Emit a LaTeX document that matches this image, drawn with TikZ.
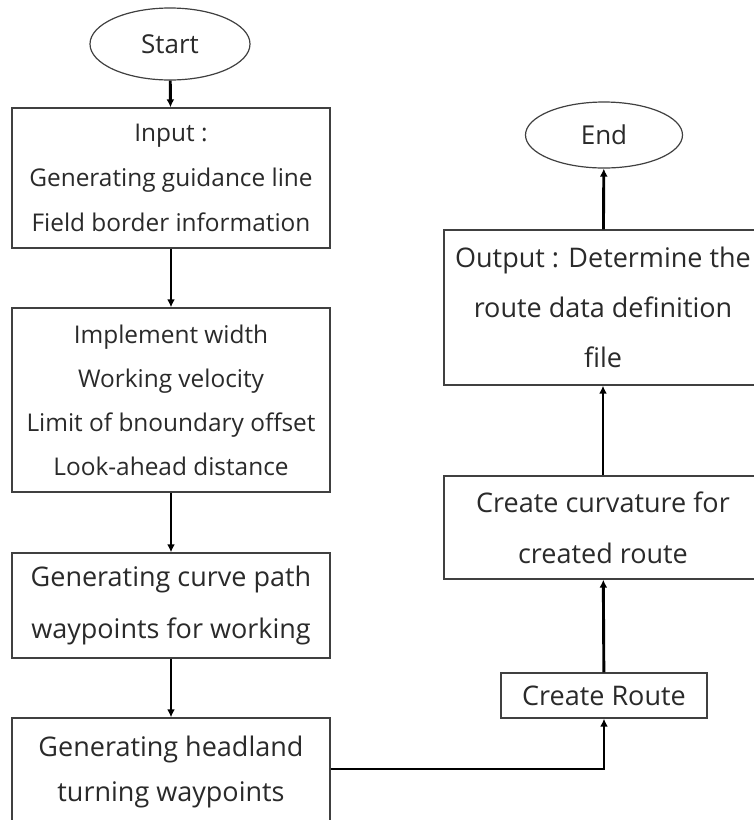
\documentclass[tikz,border=0pt]{standalone}
\usepackage{fontspec}
\setmainfont{Open Sans}
\usetikzlibrary{shapes.geometric,arrows.meta}
\definecolor{boxline}{HTML}{404040}
\definecolor{txt}{HTML}{2A2A2A}
\begin{document}
\begin{tikzpicture}[x=1pt,y=-1pt,
  box/.style={draw=boxline,line width=1.4pt,rectangle,align=center,text=txt,inner sep=0pt},
  term/.style={draw=boxline,line width=1.2pt,ellipse,align=center,text=txt,inner sep=0pt},
  smallf/.style={font=\fontsize{24.4}{45}\selectfont},
  bigf/.style={font=\fontsize{27}{52}\selectfont},
  conn/.style={line width=2.9pt,-{Latex[length=8pt,width=8pt]}}]
\useasboundingbox (0,0) rectangle (754,820);
\clip (0,0) rectangle (754,820);
\fill[white] (0,0) rectangle (754,820);
\node[term,font=\fontsize{26}{30}\selectfont,minimum width=160,minimum height=72] (start) at (170,44) {Start};
\node[box,smallf,minimum width=318,minimum height=140] (input) at (171,178) {Input :\\Generating guidance line\\Field border information};
\node[box,smallf,font=\fontsize{24.4}{44}\selectfont,minimum width=318,minimum height=184] (params) at (171,400) {Implement width\\Working velocity\\Limit of bnoundary offset\\Look-ahead distance};
\node[box,bigf,minimum width=318,minimum height=105] (curve) at (171,605.5) {Generating curve path\\waypoints for working};
\node[box,bigf,font=\fontsize{27}{45}\selectfont,minimum width=318,minimum height=108] (head) at (171,772) {Generating headland\\turning waypoints};
\node[term,font=\fontsize{26}{30}\selectfont,minimum width=157,minimum height=66] (end) at (604,135) {End};
\node[box,bigf,font=\fontsize{27}{50}\selectfont,minimum width=318,minimum height=155] (output) at (603,307.5) {Output : Determine the\\route data definition\\file};
\node[box,bigf,font=\fontsize{27}{51}\selectfont,minimum width=318,minimum height=103] (curv) at (603,527.5) {Create curvature for\\created route};
\node[box,bigf,minimum width=206,minimum height=45] (route) at (604,695.5) {Create Route};
\draw[conn] (start) -- (input);
\draw[conn] (input) -- (params);
\draw[conn] (params) -- (curve);
\draw[conn] (curve) -- (head);
\draw[conn] ([yshift=3pt]head.east) -| (route.south);
\draw[conn] (route) -- (curv);
\draw[conn] (curv) -- (output);
\draw[conn] (output) -- (end);
\end{tikzpicture}
\end{document}
